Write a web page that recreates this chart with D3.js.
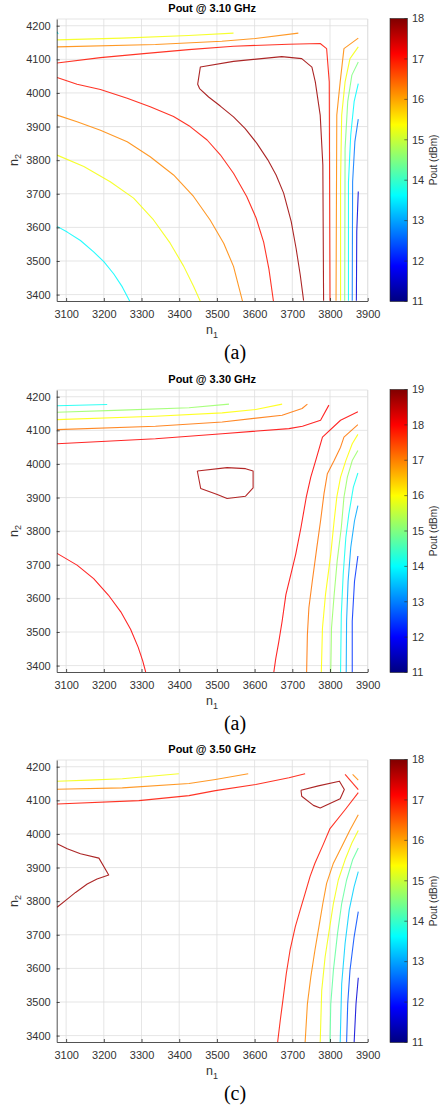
<!DOCTYPE html>
<html lang="en">
<head>
<meta charset="UTF-8" />
<title>Pout contours vs n1 / n2</title>
<style>
  body { margin: 0; background: #fff; }
  svg { display: block; font-family: 'Liberation Sans', Arial, sans-serif; }
  .grid line { stroke: #dedede; stroke-width: 0.8; }
  .axis path, .axis line { stroke: #262626; stroke-width: 0.8; }
  .axis text { fill: #333; }
  .contour { fill: none; stroke-width: 1.1; stroke-opacity: 0.85; stroke-linejoin: round; }
</style>
</head>
<body>
<svg id="chart" width="440" height="1107"></svg>
<script src="https://d3js.org/d3.v7.min.js"></script>
<script>
// ---- data ----
const n1Domain = [3075, 3900];
const n2Domain = [3381, 4220];
const n1Ticks = [3100, 3200, 3300, 3400, 3500, 3600, 3700, 3800, 3900];
const n2Ticks = [3400, 3500, 3600, 3700, 3800, 3900, 4000, 4100, 4200];
const titles = ["Pout @ 3.10 GHz", "Pout @ 3.30 GHz", "Pout @ 3.50 GHz"];
const captions = ["(a)", "(a)", "(c)"];
const cbRanges = [[11, 18], [11, 19], [11, 18]];

// contour lines: level in dBm, points as [n1, n2]
const pout310 = [
  { level: 13.6, pts: [[3076,3603],[3103,3586],[3138,3561],[3173,3527],[3200,3498],[3226,3462],[3249,3423],[3269,3380]] },
  { level: 13.6, pts: [[3076,4182],[3079,4175]] },
  { level: 15.3, pts: [[3076,3815],[3147,3781],[3217,3736],[3279,3687],[3332,3622],[3376,3553],[3412,3484],[3438,3425],[3456,3380]] },
  { level: 16.2, pts: [[3076,3934],[3129,3914],[3191,3889],[3262,3855],[3323,3810],[3385,3756],[3438,3692],[3482,3622],[3518,3553],[3544,3484],[3568,3380]] },
  { level: 17.0, pts: [[3076,4046],[3129,4026],[3191,4010],[3262,3984],[3323,3959],[3385,3930],[3429,3900],[3474,3860],[3509,3816],[3544,3761],[3579,3692],[3604,3628],[3624,3556],[3638,3476],[3650,3380]] },
  { level: 17.8, pts: [[3730,3382],[3721,3459],[3710,3538],[3697,3618],[3677,3702],[3657,3756],[3635,3801],[3606,3850],[3575,3894],[3544,3929],[3509,3961],[3478,3988],[3454,4013],[3449,4026],[3456,4077],[3544,4094],[3672,4108],[3725,4102],[3752,4077],[3761,4033],[3774,3934],[3781,3786],[3783,3382]] },
  { level: 17.0, pts: [[3076,4089],[3191,4105],[3306,4117],[3425,4129],[3544,4139],[3690,4145],[3774,4147],[3791,4132],[3798,4033],[3800,3382]] },
  { level: 16.2, pts: [[3076,4137],[3337,4144],[3513,4154],[3602,4162],[3716,4178]] },
  { level: 15.3, pts: [[3076,4158],[3248,4163],[3425,4171],[3544,4178]] },
  { level: 16.2, pts: [[3875,4163],[3837,4132],[3827,4033],[3818,3934],[3816,3382]] },
  { level: 15.3, pts: [[3875,4137],[3853,4102],[3840,4033],[3831,3934],[3828,3736],[3828,3382]] },
  { level: 14.5, pts: [[3875,4092],[3858,4053],[3847,3974],[3840,3835],[3839,3382]] },
  { level: 13.6, pts: [[3875,4028],[3864,3974],[3855,3875],[3849,3736],[3849,3382]] },
  { level: 12.7, pts: [[3875,3922],[3866,3855],[3860,3736],[3859,3382]] },
  { level: 11.6, pts: [[3875,3707],[3871,3588],[3870,3382]] }
];

const pout330 = [
  { level: 14.1, pts: [[3076,4173],[3209,4177]] },
  { level: 15.2, pts: [[3076,4154],[3249,4160],[3426,4167],[3532,4178]] },
  { level: 16.0, pts: [[3076,4132],[3337,4142],[3514,4152],[3603,4162],[3673,4178]] },
  { level: 17.1, pts: [[3076,4102],[3337,4112],[3514,4125],[3673,4145],[3726,4165],[3740,4178]] },
  { level: 18.0, pts: [[3076,4060],[3337,4075],[3514,4090],[3691,4105],[3727,4112],[3775,4130],[3797,4175]] },
  { level: 18.0, pts: [[3076,3734],[3129,3699],[3173,3659],[3212,3610],[3245,3560],[3271,3508],[3291,3455],[3303,3415],[3311,3381]] },
  { level: 18.7, pts: [[3448,3979],[3527,3989],[3576,3986],[3596,3979],[3596,3929],[3576,3904],[3527,3897],[3501,3909],[3457,3927],[3448,3979]] },
  { level: 18.0, pts: [[3874,4155],[3828,4130],[3780,4080],[3762,4010],[3749,3961],[3737,3901],[3723,3811],[3709,3731],[3696,3671],[3683,3611],[3673,3532],[3664,3470],[3656,3420],[3651,3381]] },
  { level: 17.1, pts: [[3874,4117],[3837,4080],[3828,4050],[3811,4010],[3793,3971],[3784,3911],[3775,3831],[3765,3751],[3753,3651],[3744,3572],[3740,3492],[3738,3381]] },
  { level: 16.0, pts: [[3874,4088],[3859,4060],[3842,4010],[3828,3961],[3818,3901],[3811,3831],[3802,3731],[3788,3611],[3780,3512],[3777,3381]] },
  { level: 15.2, pts: [[3874,4040],[3859,4010],[3846,3961],[3837,3901],[3830,3811],[3819,3711],[3811,3611],[3804,3512],[3802,3381]] },
  { level: 14.1, pts: [[3874,3973],[3862,3931],[3850,3851],[3842,3781],[3835,3671],[3830,3552],[3828,3381]] },
  { level: 13.3, pts: [[3874,3876],[3865,3831],[3855,3751],[3848,3651],[3844,3532],[3843,3381]] },
  { level: 12.4, pts: [[3874,3726],[3865,3651],[3859,3532],[3859,3381]] }
];

const pout350 = [
  { level: 15.3, pts: [[3076,4157],[3160,4160],[3249,4164],[3399,4179]] },
  { level: 16.2, pts: [[3076,4133],[3249,4137],[3426,4150],[3496,4162],[3583,4179]] },
  { level: 17.0, pts: [[3076,4089],[3293,4099],[3426,4114],[3496,4129],[3603,4147],[3691,4167],[3734,4179]] },
  { level: 17.8, pts: [[3723,4130],[3769,4143],[3825,4157],[3838,4132],[3827,4105],[3774,4077],[3756,4085],[3725,4112],[3723,4130]] },
  { level: 17.0, pts: [[3840,4177],[3875,4132]] },
  { level: 16.2, pts: [[3860,4177],[3875,4160]] },
  { level: 17.0, pts: [[3875,4123],[3840,4072],[3800,4016],[3781,3966],[3760,3913],[3747,3873],[3734,3823],[3721,3774],[3708,3724],[3694,3654],[3684,3584],[3675,3505],[3668,3445],[3661,3380]] },
  { level: 17.8, pts: [[3076,3971],[3103,3956],[3138,3941],[3187,3928],[3213,3878],[3182,3866],[3156,3851],[3125,3826],[3103,3806],[3076,3782]] },
  { level: 16.2, pts: [[3875,4057],[3853,4012],[3831,3962],[3809,3913],[3791,3853],[3781,3793],[3772,3733],[3760,3654],[3749,3574],[3740,3494],[3734,3380]] },
  { level: 15.3, pts: [[3875,4010],[3858,3973],[3840,3923],[3822,3863],[3809,3793],[3798,3714],[3787,3634],[3778,3534],[3774,3380]] },
  { level: 14.3, pts: [[3875,3958],[3860,3923],[3844,3863],[3831,3793],[3820,3704],[3809,3594],[3802,3494],[3800,3380]] },
  { level: 13.3, pts: [[3875,3888],[3864,3843],[3851,3774],[3840,3674],[3831,3554],[3827,3380]] },
  { level: 12.4, pts: [[3875,3769],[3864,3694],[3853,3594],[3847,3495],[3844,3380]] },
  { level: 11.6, pts: [[3875,3572],[3869,3495],[3864,3380]] }
];

// ---- layout ----
const panelTop = [0, 371, 741];
const PL = 56.7, PR = 367.7, PT = 19, PB = 301;
const CB_X = 390, CB_W = 17.3, CB_T = 18.5, CB_B = 301.5;

const svg = d3.select("#chart");
const defs = svg.append("defs");

function jet(t) {
  const c = v => Math.max(0, Math.min(1, v)) * 255;
  return d3.rgb(c(1.5 - Math.abs(4 * t - 3)), c(1.5 - Math.abs(4 * t - 2)), c(1.5 - Math.abs(4 * t - 1))).formatHex();
}

const grad = defs.append("linearGradient").attr("id", "jetGrad")
  .attr("x1", 0).attr("y1", 1).attr("x2", 0).attr("y2", 0);
d3.range(0, 64.5).forEach(k => grad.append("stop").attr("offset", k / 64).attr("stop-color", jet(k / 64)));

const panels = [
  { title: titles[0], caption: captions[0], range: cbRanges[0], lines: pout310 },
  { title: titles[1], caption: captions[1], range: cbRanges[1], lines: pout330 },
  { title: titles[2], caption: captions[2], range: cbRanges[2], lines: pout350 }
];

const x = d3.scaleLinear().domain(n1Domain).range([PL, PR]);
const y = d3.scaleLinear().domain(n2Domain).range([PB, PT]);
const contourLine = d3.line().x(d => x(d[0])).y(d => y(d[1]));

panels.forEach((p, i) => {
  const g = svg.append("g").attr("transform", `translate(0,${panelTop[i]})`);
  const cNorm = d3.scaleLinear().domain(p.range).range([0, 1]);

  defs.append("clipPath").attr("id", "clip" + i)
    .append("rect").attr("x", PL).attr("y", PT).attr("width", PR - PL).attr("height", PB - PT);

  // grid
  const grid = g.append("g").attr("class", "grid");
  grid.selectAll(".gx").data(n1Ticks).join("line").attr("class", "gx")
    .attr("x1", d => x(d)).attr("x2", d => x(d)).attr("y1", PT).attr("y2", PB);
  grid.selectAll(".gy").data(n2Ticks).join("line").attr("class", "gy")
    .attr("x1", PL).attr("x2", PR).attr("y1", d => y(d)).attr("y2", d => y(d));
  grid.append("line").attr("x1", PL).attr("x2", PR).attr("y1", PT).attr("y2", PT);
  grid.append("line").attr("x1", PR).attr("x2", PR).attr("y1", PT).attr("y2", PB);

  // contours
  g.append("g").attr("clip-path", `url(#clip${i})`)
    .selectAll("path").data(p.lines).join("path")
    .attr("class", "contour")
    .attr("d", d => contourLine(d.pts))
    .attr("stroke", d => jet(cNorm(d.level)));

  // axes
  g.append("g").attr("class", "axis").attr("transform", `translate(0,${PB})`)
    .call(d3.axisBottom(x).tickValues(n1Ticks).tickSizeInner(-3).tickSizeOuter(0).tickPadding(9).tickFormat(d3.format("d")))
    .attr("font-size", 11).attr("font-family", null);
  g.append("g").attr("class", "axis").attr("transform", `translate(${PL},0)`)
    .call(d3.axisLeft(y).tickValues(n2Ticks).tickSizeInner(-3).tickSizeOuter(0).tickPadding(6).tickFormat(d3.format("d")))
    .attr("font-size", 11).attr("font-family", null);

  // title
  g.append("text").attr("x", (PL + PR) / 2).attr("y", 11.5).attr("text-anchor", "middle")
    .attr("font-size", 11).attr("font-weight", "bold").attr("fill", "#000").text(p.title);

  // axis labels
  const xl = g.append("text").attr("x", 212).attr("y", 334).attr("text-anchor", "middle")
    .attr("font-size", 12.5).attr("fill", "#333");
  xl.append("tspan").text("n");
  xl.append("tspan").attr("dy", 3.5).attr("font-size", 9).text("1");

  const yl = g.append("text").attr("transform", "translate(17.5,160) rotate(-90)").attr("text-anchor", "middle")
    .attr("font-size", 12.5).attr("fill", "#333");
  yl.append("tspan").text("n");
  yl.append("tspan").attr("dy", 3.5).attr("font-size", 9).text("2");

  // colorbar
  const cy = d3.scaleLinear().domain(p.range).range([CB_B, CB_T]);
  const cbTicks = d3.range(p.range[0], p.range[1] + 1);
  g.append("rect").attr("x", CB_X).attr("y", CB_T).attr("width", CB_W).attr("height", CB_B - CB_T)
    .attr("fill", "url(#jetGrad)").attr("stroke", "#262626").attr("stroke-width", 0.6);
  g.append("g").selectAll("line").data(cbTicks).join("line")
    .attr("x1", CB_X + CB_W - 3).attr("x2", CB_X + CB_W).attr("y1", d => cy(d)).attr("y2", d => cy(d))
    .attr("stroke", "#262626").attr("stroke-width", 0.6);
  g.append("g").selectAll("text").data(cbTicks).join("text")
    .attr("x", 412).attr("y", d => cy(d)).attr("dy", "0.35em")
    .attr("font-size", 11).attr("fill", "#333").text(d => d);
  g.append("text").attr("transform", "translate(437,160) rotate(-90)").attr("text-anchor", "middle")
    .attr("font-size", 10).attr("fill", "#333").text("Pout (dBm)");

  // caption
  g.append("text").attr("x", 235).attr("y", 359).attr("text-anchor", "middle")
    .attr("font-family", "'Liberation Serif', 'Times New Roman', serif").attr("font-size", 20)
    .attr("fill", "#000").text(p.caption);
});
</script>
</body>
</html>
